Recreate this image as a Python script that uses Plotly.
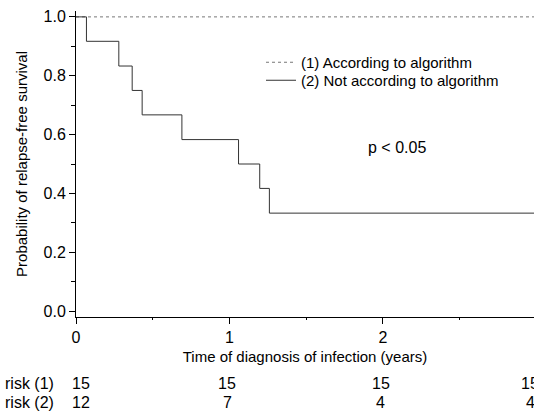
import plotly.graph_objects as go

# Data
grp1_time = [0, 2.984]
grp1_surv = [1.0, 1.0]
grp2_time = [0, 0.068, 0.279, 0.366, 0.431, 0.69, 1.059, 1.197, 1.26, 2.984]
grp2_surv = [1.0, 0.917, 0.833, 0.75, 0.667, 0.583, 0.5, 0.417, 0.333, 0.333]
risk_times = [0, 1, 2, 3]
risk1 = [15, 15, 15, 15]
risk2 = [12, 7, 4, 4]
risk_labels = ["risk (1)", "risk (2)"]
series_names = ["(1) According to algorithm", "(2) Not according to algorithm"]

FONT = "Liberation Sans, Arial, sans-serif"
XMAX = 2.984
PLOT_LEFT = 76
PLOT_TOP, PLOT_BOTTOM = 11, 317  # pixel rows of plot area
PH = PLOT_BOTTOM - PLOT_TOP
PW = 534 - PLOT_LEFT

def paper_y(pix):
    return (PLOT_BOTTOM - pix) / PH

def paper_x(pix):
    return (pix - PLOT_LEFT) / PW

fig = go.Figure()
fig.add_trace(go.Scatter(x=grp1_time, y=grp1_surv, mode="lines", line_shape="hv",
                         line=dict(color="#777777", width=1, dash="dot"), name=series_names[0],
                         legend="legend"))
fig.add_trace(go.Scatter(x=grp2_time, y=grp2_surv, mode="lines", line_shape="hv",
                         line=dict(color="#333333", width=1), name=series_names[1],
                         legend="legend2"))

fig.add_annotation(x=2.09, y=0.556, xref="x", yref="y", text="p < 0.05", showarrow=False,
                   font=dict(size=16, color="black", family=FONT))

for lab, vals, ypix in [(risk_labels[0], risk1, 383), (risk_labels[1], risk2, 403)]:
    yp = paper_y(ypix)
    fig.add_annotation(x=paper_x(3), y=yp, xref="paper", yref="paper", xanchor="left",
                       yanchor="middle", text=lab, showarrow=False,
                       font=dict(size=16, color="black", family=FONT))
    for t, v in zip(risk_times, vals):
        shift = 5 if t == 0 else (-6 if t == 3 else -2)
        fig.add_annotation(x=t / XMAX, y=yp, xref="paper", yref="paper", xanchor="center",
                           yanchor="middle", text=str(v), showarrow=False, xshift=shift,
                           font=dict(size=16, color="black", family=FONT))

leg_common = dict(xanchor="left", yanchor="middle", bgcolor="rgba(0,0,0,0)",
                  font=dict(size=15, family=FONT), itemwidth=30)
fig.update_layout(
    width=534, height=412,
    margin=dict(l=PLOT_LEFT, r=0, t=PLOT_TOP, b=412 - PLOT_BOTTOM, autoexpand=False),
    plot_bgcolor="white", paper_bgcolor="white",
    font=dict(family=FONT, size=15, color="black"),
    showlegend=True,
    legend=dict(x=paper_x(261), y=paper_y(62.5), **leg_common),
    legend2=dict(x=paper_x(261), y=paper_y(80.5), **leg_common),
    xaxis=dict(range=[0, XMAX], showgrid=False, zeroline=False, showline=True, linecolor="black",
               linewidth=1, ticks="outside", ticklen=6, tickcolor="black", tickvals=[0, 1, 2, 3],
               tickfont=dict(size=16), automargin=False,
               minor=dict(ticks="outside", ticklen=2, tickcolor="black", dtick=0.5),
               title=dict(text="Time of diagnosis of infection (years)", font=dict(size=15), standoff=6)),
    yaxis=dict(range=[-0.02, 1.02], showgrid=False, zeroline=False, showline=True, linecolor="black",
               linewidth=1, ticks="outside", ticklen=6, tickcolor="black", automargin=False,
               tickvals=[0, 0.2, 0.4, 0.6, 0.8, 1.0], tickformat=".1f", tickfont=dict(size=16),
               minor=dict(ticks="outside", ticklen=4, tickcolor="black", dtick=0.1),
               title=dict(text="Probability of relapse-free survival", font=dict(size=15), standoff=12)),
)

fig.write_html("out.html", config={"displayModeBar": False},
               post_script="document.body.style.margin='0';")
